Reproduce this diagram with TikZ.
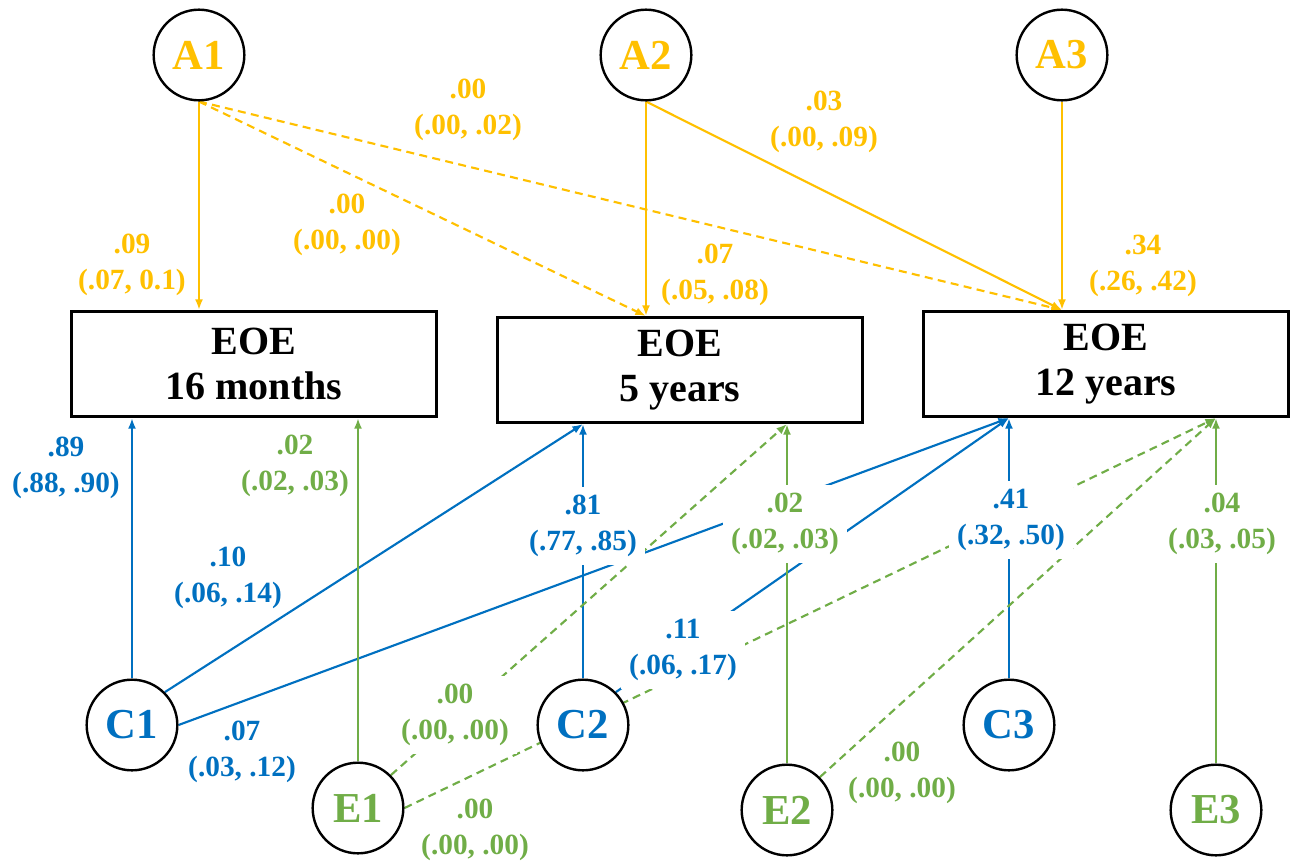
\documentclass[tikz,border=0pt]{standalone}
\usepackage{fontspec}
\setmainfont{Liberation Serif}
\usetikzlibrary{arrows.meta,backgrounds}
\definecolor{gold}{RGB}{255,192,0}
\definecolor{cblue}{RGB}{0,112,192}
\definecolor{cgreen}{RGB}{112,173,71}

\begin{document}
\begin{tikzpicture}[x=0.75pt, y=-0.75pt, every node/.style={font=\bfseries},
  lat/.style={draw, circle, line width=1.8pt, fill=white, minimum size=68pt, inner sep=0pt,
    font=\fontsize{32}{36}\selectfont\bfseries},
  box/.style={draw, line width=2pt, fill=white, minimum width=274pt, minimum height=79pt,
    align=center, font=\fontsize{30}{34}\selectfont\bfseries},
  est/.style={align=center, inner sep=6pt, font=\fontsize{22}{27}\selectfont\bfseries},
  estw/.style={est, fill=white},
  arr/.style={-{Latex[length=8pt,width=6pt]}, line width=1.6pt},
  dsh/.style={arr, dash pattern=on 6pt off 4pt}]
\useasboundingbox (0,0) rectangle (1290,865);
% latent factors
\node[lat, text=gold] (a1) at (199,55) {A1};
\node[lat, text=gold] (a2) at (646,55) {A2};
\node[lat, text=gold] (a3) at (1062,55) {A3};
\node[lat, text=cblue] (c1) at (132,725) {C1};
\node[lat, text=cblue] (c2) at (583,725) {C2};
\node[lat, text=cblue] (c3) at (1009,725) {C3};
\node[lat, text=cgreen] (e1) at (358,808) {E1};
\node[lat, text=cgreen] (e2) at (787,810) {E2};
\node[lat, text=cgreen] (e3) at (1216,810) {E3};
% observed EOE
\node[box] (m16) at (254,364) {EOE\\16 months};
\node[box] (y5) at (680,370) {EOE\\5 years};
\node[box] (y12) at (1106,364) {EOE\\12 years};
\begin{scope}[on background layer]
\draw[arr, gold] (a1) -- (a1 |- m16.north);
\draw[dsh, gold] (a1.south) -- (a2 |- y5.north);
\draw[dsh, gold] (a1.south) -- (a3 |- y12.north);
\draw[arr, gold] (a2) -- (a2 |- y5.north);
\draw[arr, gold] (a2.south) -- (a3 |- y12.north);
\draw[arr, gold] (a3) -- (a3 |- y12.north);
\draw[arr, cblue] (c1) -- (c1 |- m16.south);
\draw[arr, cblue] (c1.north east) -- (c2 |- y5.south);
\draw[arr, cblue] (c1.east) -- (c3 |- y12.south);
\draw[arr, cblue] (c2) -- (c2 |- y5.south);
\draw[arr, cblue] (c2.north east) -- (c3 |- y12.south);
\draw[arr, cblue] (c3) -- (c3 |- y12.south);
\draw[arr, cgreen] (e1) -- (e1 |- m16.south);
\draw[dsh, cgreen] (e1.north east) -- (e2 |- y5.south);
\draw[dsh, cgreen] (e1.east) -- (e3 |- y12.south);
\draw[arr, cgreen] (e2) -- (e2 |- y5.south);
\draw[dsh, cgreen] (e2.north east) -- (e3 |- y12.south);
\draw[arr, cgreen] (e3) -- (e3 |- y12.south);
\end{scope}
% estimates
\node[est, text=gold] (l09) at (132,265) {.09\\(.07, 0.1)};
\node[est, text=gold] (l00a) at (347,225) {.00\\(.00, .00)};
\node[est, text=gold] (l00b) at (468,110) {.00\\(.00, .02)};
\node[est, text=gold] (l03) at (824,122) {.03\\(.00, .09)};
\node[est, text=gold] (l07a) at (715,275) {.07\\(.05, .08)};
\node[est, text=gold] (l34) at (1143,266) {.34\\(.26, .42)};
\node[est, text=cblue] (l89) at (66,468) {.89\\(.88, .90)};
\node[est, text=cgreen] (l02a) at (295,466) {.02\\(.02, .03)};
\node[est, text=cblue] (l10) at (228,578) {.10\\(.06, .14)};
\node[est, text=cblue] (l07b) at (242,752) {.07\\(.03, .12)};
\node[estw, text=cblue] (l81) at (583,526) {.81\\(.77, .85)};
\node[estw, text=cgreen] (l02b) at (785,524) {.02\\(.02, .03)};
\node[estw, text=cblue] (l41) at (1011,520) {.41\\(.32, .50)};
\node[estw, text=cgreen] (l04) at (1222,524) {.04\\(.03, .05)};
\node[estw, text=cblue] (l11) at (683,650) {.11\\(.06, .17)};
\node[estw, text=cgreen] (l00c) at (455,715) {.00\\(.00, .00)};
\node[est, text=cgreen] (l00d) at (475,830) {.00\\(.00, .00)};
\node[est, text=cgreen] (l00e) at (902,773) {.00\\(.00, .00)};
\end{tikzpicture}
\end{document}
